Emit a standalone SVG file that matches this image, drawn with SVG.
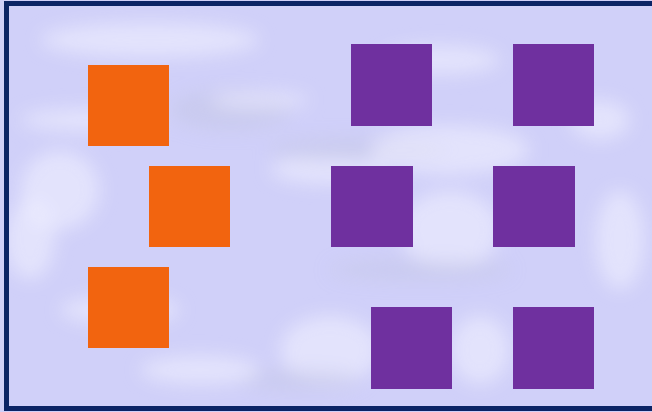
<svg xmlns="http://www.w3.org/2000/svg" width="652" height="412" viewBox="0 0 652 412">
  <style>
    .orange { fill: #F2640F; }
    .purple { fill: #6F309F; }
    .cloud { fill: #F2F2FF; opacity: 0.55; }
    .cloudg { fill: #C4C6E6; opacity: 0.5; }
  </style>
  <defs>
    <filter id="blur" x="-50%" y="-50%" width="200%" height="200%">
      <feGaussianBlur stdDeviation="9"/>
    </filter>
    <clipPath id="frame"><rect x="6" y="3" width="650" height="406"/></clipPath>
  </defs>
  <g id="background">
    <rect x="0" y="0" width="652" height="412" fill="#D0D0F9"/>
    <g clip-path="url(#frame)" filter="url(#blur)">
      <ellipse class="cloud" cx="150" cy="40" rx="110" ry="18"/>
      <ellipse class="cloud" cx="90" cy="120" rx="70" ry="12"/>
      <ellipse class="cloudg" cx="230" cy="110" rx="60" ry="20"/>
      <ellipse class="cloud" cx="260" cy="100" rx="50" ry="8"/>
      <ellipse class="cloud" cx="60" cy="190" rx="40" ry="40"/>
      <ellipse class="cloud" cx="30" cy="240" rx="25" ry="40"/>
      <ellipse class="cloud" cx="330" cy="170" rx="60" ry="15"/>
      <ellipse class="cloudg" cx="360" cy="150" rx="90" ry="12"/>
      <ellipse class="cloud" cx="450" cy="150" rx="80" ry="25"/>
      <ellipse class="cloud" cx="440" cy="60" rx="60" ry="15"/>
      <ellipse class="cloud" cx="450" cy="230" rx="50" ry="40"/>
      <ellipse class="cloudg" cx="420" cy="270" rx="90" ry="10"/>
      <ellipse class="cloud" cx="330" cy="350" rx="50" ry="35"/>
      <ellipse class="cloudg" cx="300" cy="380" rx="60" ry="10"/>
      <ellipse class="cloud" cx="480" cy="350" rx="30" ry="35"/>
      <ellipse class="cloud" cx="200" cy="370" rx="60" ry="15"/>
      <ellipse class="cloud" cx="620" cy="240" rx="25" ry="50"/>
      <ellipse class="cloud" cx="600" cy="120" rx="30" ry="20"/>
      <ellipse class="cloud" cx="120" cy="310" rx="60" ry="15"/>
    </g>
    <rect x="6.5" y="3.5" width="660" height="405" fill="none" stroke="#0B2466" stroke-width="5"/>
  </g>
  <g id="connectors"></g>
  <g id="orange-1"><rect class="orange" x="88" y="65" width="81" height="81"/></g>
  <g id="orange-2"><rect class="orange" x="149" y="166" width="81" height="81"/></g>
  <g id="orange-3"><rect class="orange" x="88" y="267" width="81" height="81"/></g>
  <g id="purple-1"><rect class="purple" x="351" y="44" width="81" height="82"/></g>
  <g id="purple-2"><rect class="purple" x="513" y="44" width="81" height="82"/></g>
  <g id="purple-3"><rect class="purple" x="331" y="166" width="82" height="81"/></g>
  <g id="purple-4"><rect class="purple" x="493" y="166" width="82" height="81"/></g>
  <g id="purple-5"><rect class="purple" x="371" y="307" width="81" height="82"/></g>
  <g id="purple-6"><rect class="purple" x="513" y="307" width="81" height="82"/></g>
</svg>
